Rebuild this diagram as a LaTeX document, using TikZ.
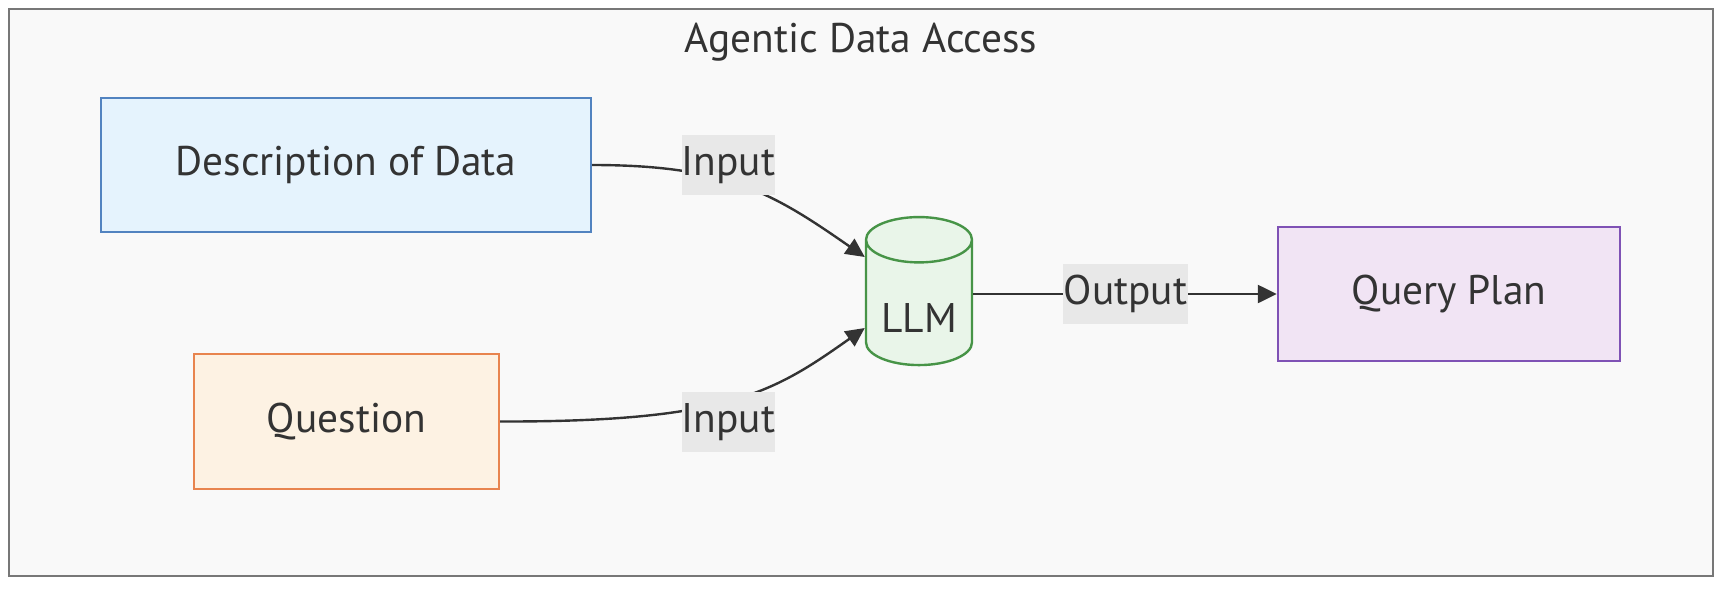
\documentclass[tikz,border=0pt]{standalone}
\usepackage{fontspec}
\setmainfont{PT Sans}
\usetikzlibrary{shapes.geometric,arrows.meta}
\definecolor{txt}{HTML}{333333}
\definecolor{framebg}{HTML}{F9F9F9}
\definecolor{framedraw}{HTML}{777777}
\definecolor{lblbg}{HTML}{E8E8E8}
\definecolor{descdraw}{HTML}{5283C0}
\definecolor{descfill}{HTML}{E5F3FD}
\definecolor{questdraw}{HTML}{E8844E}
\definecolor{questfill}{HTML}{FDF2E3}
\definecolor{llmdraw}{HTML}{479447}
\definecolor{llmfill}{HTML}{E9F5E9}
\definecolor{plandraw}{HTML}{7F52B5}
\definecolor{planfill}{HTML}{F1E4F4}
\begin{document}
\begin{tikzpicture}[x=0.5pt, y=-0.5pt, font=\fontsize{20.7}{24}\selectfont, text=txt,
  box/.style={draw, line width=1.2pt, inner sep=0pt},
  lbl/.style={fill=lblbg, inner sep=0pt, minimum height=30pt},
  flow/.style={draw=txt, line width=1.2pt, -{Triangle[length=9.5pt, width=9pt]}}]
\useasboundingbox (0,0) rectangle (1726,590);
% outer frame
\draw[fill=framebg, draw=framedraw, line width=1.2pt] (9,9) rectangle (1713,576);
\node (title) at (861,42) {Agentic Data Access};
% sources
\node[box, draw=descdraw, fill=descfill, minimum width=245pt, minimum height=67pt] (desc) at (346,165) {Description of Data};
\node[box, draw=questdraw, fill=questfill, minimum width=152.5pt, minimum height=67.5pt] (quest) at (346.5,421.5) {Question};
% model and result
\node[box, cylinder, shape border rotate=90, aspect=0.6, draw=llmdraw, fill=llmfill, minimum width=53pt, minimum height=74pt] (llm) at (919,303) {\raisebox{-14.5pt}[0pt][0pt]{LLM}};
\node[box, draw=plandraw, fill=planfill, minimum width=171pt, minimum height=67pt] (plan) at (1449,294) {Query Plan};
% edges
\coordinate (in1) at (728.5,165);
\coordinate (in2) at (728.5,422);
\coordinate (out) at (1125.5,294);
\draw[flow] (desc.east) .. controls (in1) and (774,194) .. (llm.west |- 0,257);
\draw[flow] (quest.east) .. controls (in2) and (774,392) .. (llm.west |- 0,328);
\draw[flow] (llm.east |- out) -- (plan.west);
\node[lbl, minimum width=45.5pt] (lin1) at (in1) {Input};
\node[lbl, minimum width=45.5pt] (lin2) at (in2) {Input};
\node[lbl, minimum width=62.5pt] (lout) at (out) {Output};
\end{tikzpicture}
\end{document}
